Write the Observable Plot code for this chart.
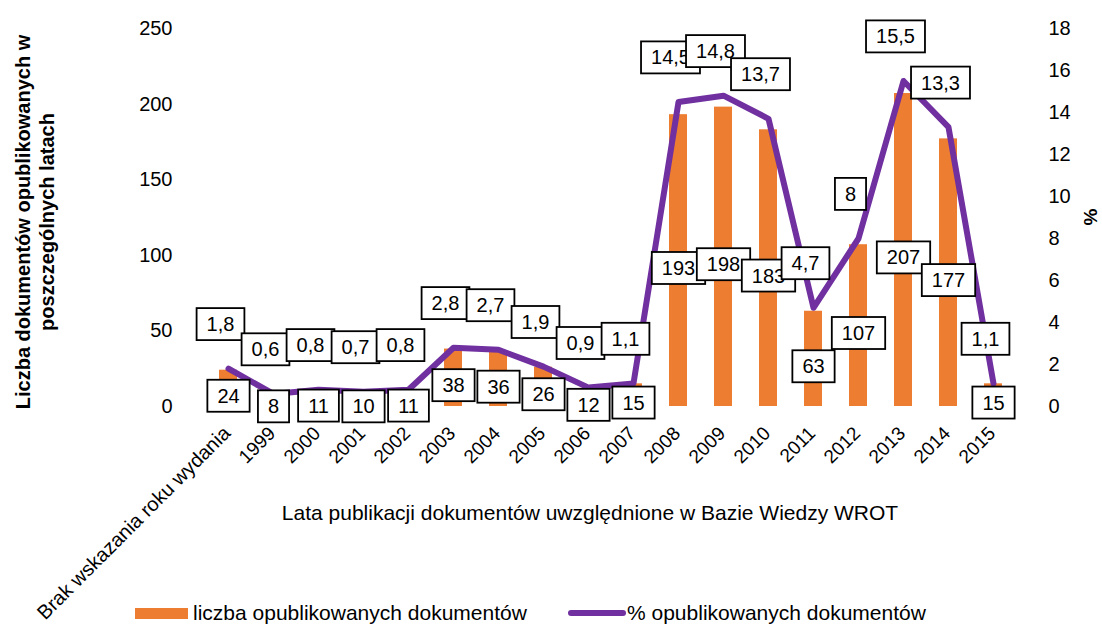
<!DOCTYPE html>
<html><head><meta charset="utf-8">
<script src="https://cdn.jsdelivr.net/npm/d3@7"></script>
<script src="https://cdn.jsdelivr.net/npm/@observablehq/plot@0.6"></script>
<style>
body{margin:0;background:#fff;font-family:"Liberation Sans",Arial,sans-serif;}
#wrap{position:relative;width:1102px;height:624px;overflow:hidden;}
.legend{position:absolute;top:599px;height:28px;display:flex;align-items:center;font-size:21px;color:#000;font-family:"Liberation Sans",Arial,sans-serif;white-space:nowrap;}
.sw-bar{width:53px;height:11px;background:#ED7D31;margin-right:5px;}
.sw-line{width:58px;height:6px;border-radius:3px;background:#7030A0;margin-right:1px;}
</style></head><body><div id="wrap"></div>
<script>
const categories = ["Brak wskazania roku wydania","1999","2000","2001","2002","2003","2004","2005","2006","2007","2008","2009","2010","2011","2012","2013","2014","2015"];
const counts = [24,8,11,10,11,38,36,26,12,15,193,198,183,63,107,207,177,15];
const percents = [1.8,0.6,0.8,0.7,0.8,2.8,2.7,1.9,0.9,1.1,14.5,14.8,13.7,4.7,8,15.5,13.3,1.1];
const leftTicks = [0,50,100,150,200,250];
const rightTicks = [0,2,4,6,8,10,12,14,16,18];
const leftTitle = ["Liczba dokumentów opublikowanych w","poszczególnych latach"];
const rightTitle = "%";
const xTitle = "Lata publikacji dokumentów uwzględnione w Bazie Wiedzy WROT";
const seriesNames = ["liczba opublikowanych dokumentów","% opublikowanych dokumentów"];

const ratio = 250/18;
const data = categories.map((c,i)=>({cat:c,count:counts[i],pct:percents[i],pctScaled:percents[i]*ratio}));
const fmt = v => String(v).replace(".", ",");
const FONT = "Liberation Sans, Arial, sans-serif";

const chart = Plot.plot({
  width:1102, height:624,
  marginLeft:191, marginRight:72, marginTop:28, marginBottom:218,
  style:{fontFamily:FONT, fontSize:"20px", color:"#000", background:"#fff", overflow:"visible"},
  x:{domain:categories, padding:0.6, label:null},
  y:{domain:[0,250], label:null},
  marks:[
    Plot.gridY(leftTicks, {stroke:"#d9d9d9", strokeOpacity:1, strokeWidth:1.5, x1:193, x2:1030}),
    Plot.axisY(leftTicks, {anchor:"left", tickSize:0, tickPadding:19, label:null, fontSize:20}),
    Plot.axisY(rightTicks.map(t=>t*ratio), {anchor:"right", tickSize:0, tickPadding:18, tickFormat:d=>Math.round(d/ratio), label:null, fontSize:20}),
    Plot.axisX({tickRotate:-45, tickSize:0, tickPadding:28, dx:3, textAnchor:"end", lineAnchor:"bottom", label:null, fontSize:d => String(d).length > 4 ? 20 : 19}),
    Plot.barY(data, {x:"cat", y:"count", fill:"#ED7D31"}),
    Plot.line(data, {x:"cat", y:"pctScaled", stroke:"#7030A0", strokeWidth:6, strokeLinejoin:"round", strokeLinecap:"round"}),
    Plot.text(data, {x:"cat", y:d=>Math.max(d.count/2, 5), dy:8, text:d=>fmt(d.count), fontSize:20, fill:"#000", className:"lbl-count"}),
    Plot.text(data, {x:"cat", y:"pctScaled", dy:-44, dx:-8, text:d=>fmt(d.pct), fontSize:20, fill:"#000", className:"lbl-pct"})
  ]
});
const wrap = document.getElementById("wrap");
wrap.append(chart);
const svg = d3.select(chart);

// white boxes with a black border behind the data labels
const svgNS = "http://www.w3.org/2000/svg";
let groups = svg.selectAll("g.lbl-count, g.lbl-pct").nodes();
groups.forEach(g => {
  d3.select(g).selectAll("text").each(function(){
    const b = this.getBBox();
    const r = document.createElementNS(svgNS, "rect");
    const px = 10, py = 5;
    r.setAttribute("x", b.x - px);
    r.setAttribute("y", b.y - py);
    r.setAttribute("width", b.width + 2*px);
    r.setAttribute("height", b.height + 2*py);
    r.setAttribute("fill", "#fff");
    r.setAttribute("stroke", "#000");
    r.setAttribute("stroke-width", "1.8");
    const t = this.getAttribute("transform");
    if (t) r.setAttribute("transform", t);
    this.parentNode.insertBefore(r, this);
  });
});

// axis titles
const lt = svg.append("text").attr("transform","translate(33,222) rotate(-90)")
  .attr("text-anchor","middle").attr("font-weight","bold").attr("font-size",20).attr("font-family",FONT).attr("fill","#000");
lt.append("tspan").attr("x",0).attr("dy","-0.15em").text(leftTitle[0]);
lt.append("tspan").attr("x",0).attr("dy","1.2em").text(leftTitle[1]);
svg.append("text").attr("transform","translate(1090,217) rotate(-90)")
  .attr("text-anchor","middle").attr("dy","0.35em").attr("font-weight","bold").attr("font-size",19).attr("font-family",FONT).attr("fill","#000").text(rightTitle);
svg.append("text").attr("x",590).attr("y",520).attr("text-anchor","middle").attr("font-size",21).attr("font-family",FONT).attr("fill","#000").text(xTitle);

// legend
const l1 = document.createElement("div"); l1.className="legend"; l1.style.left="135px";
l1.innerHTML = '<div class="sw-bar"></div><span></span>'; l1.querySelector("span").textContent = seriesNames[0];
const l2 = document.createElement("div"); l2.className="legend"; l2.style.left="568px";
l2.innerHTML = '<div class="sw-line"></div><span></span>'; l2.querySelector("span").textContent = seriesNames[1];
wrap.append(l1, l2);
</script></body></html>
